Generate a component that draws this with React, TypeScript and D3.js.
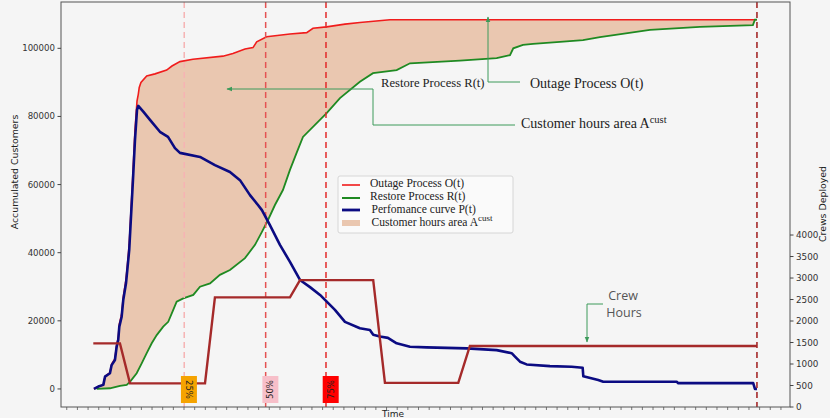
import React from "react";
import * as d3 from "d3";

type Pt = [number, number];

// [time (h), accumulated customers]
const outage: Pt[] = [
  [0.55, 0], [0.96, 700], [1.43, 1200], [1.59, 3700], [2.05, 4800], [2.21, 7300],
  [2.52, 8900], [2.68, 12900], [2.83, 15000], [2.93, 19000], [3.15, 22000], [3.3, 27000],
  [3.56, 32200], [3.71, 37100], [3.86, 42500], [4.21, 63500], [4.4, 76000], [4.59, 84500],
  [4.71, 86500], [4.8, 88500], [4.96, 90000], [5.5, 91900], [6.28, 92500], [7.37, 93600],
  [7.87, 94800], [8.62, 96100], [9.84, 96800], [12.65, 97700], [13.59, 98500], [14.72, 99800],
  [15.47, 100200], [15.82, 101900], [16.75, 103400], [18.94, 104200], [20.51, 104600],
  [21.1, 105900], [22.38, 106300], [24.1, 107100], [25.5, 107600], [28.32, 108400], [62.75, 108400],
];

const restore: Pt[] = [
  [0.81, 0], [2.05, 200], [2.99, 900], [3.62, 1200], [3.93, 2100], [4.56, 4600], [5.03, 7500],
  [5.5, 10500], [5.97, 13400], [6.44, 15800], [7.05, 18300], [7.52, 19700], [7.99, 23200],
  [8.31, 25600], [8.93, 26600], [9.87, 27600], [10.5, 30000], [11.44, 31000], [12.37, 33500],
  [13.31, 34900], [14.72, 38400], [15.66, 42300], [16.31, 46100], [16.88, 49600], [17.53, 54000],
  [18.28, 58400], [18.94, 64300], [19.6, 69600], [20.16, 74000], [22.38, 81000], [23.63, 85400],
  [25.5, 90200], [26.73, 92700], [28.95, 93600], [30.2, 95600], [34.89, 96400], [38.33, 97100],
  [39.58, 98000], [39.89, 100000], [40.8, 101000], [41.74, 101300], [44.27, 101900],
  [46.43, 102400], [48.02, 103300], [52.71, 105400], [57.4, 106300], [62.37, 106800],
  [62.56, 108400], [62.75, 108400],
];

const performance: Pt[] = [
  [0.55, 0], [0.96, 700], [1.43, 1200], [1.59, 3600], [2.05, 4600], [2.21, 7000], [2.52, 8500],
  [2.68, 12400], [2.83, 14400], [2.93, 18300], [3.15, 21200], [3.3, 26100], [3.56, 31100],
  [3.71, 35900], [3.86, 40800], [4.21, 61300], [4.4, 73100], [4.59, 81900], [4.71, 83100],
  [5.18, 81400], [5.81, 79000], [6.74, 75500], [7.5, 74000], [8.15, 70700], [8.62, 69300],
  [10.5, 68100], [11.9, 65700], [13.31, 63700], [14.25, 61300], [15.19, 56900], [15.94, 54000],
  [16.31, 52500], [17.06, 48100], [18.0, 42300], [18.94, 37300], [19.88, 32000], [20.82, 29900],
  [21.76, 27600], [23.16, 23200], [24.1, 19700], [25.5, 17800], [26.44, 17300], [26.75, 15900],
  [27.38, 15400], [28.13, 15000], [28.95, 13400], [30.2, 12400], [31.76, 12200], [35.52, 11900],
  [38.33, 11400], [39.74, 10500], [40.05, 9500], [40.52, 8000], [41.14, 7200], [43.33, 6700],
  [45.37, 6500], [46.4, 6200], [46.46, 3700], [47.86, 2600], [48.33, 2100], [55.22, 2100],
  [55.37, 1700], [62.4, 1700], [62.56, 0], [62.75, 0],
];

// [time (h), crews deployed]
const crews: Pt[] = [
  [0.49, 1480], [2.99, 1480], [3.93, 550], [10.97, 550], [11.9, 2550], [18.94, 2550],
  [19.88, 2950], [26.75, 2950], [27.85, 560], [34.73, 560], [35.82, 1420], [62.75, 1420],
];

const milestoneLabels = ["25%", "50%", "75%"];
const milestoneTimes = [9.02, 16.66, 22.32];
const endTime = 62.75;

const customerTicks = [0, 20000, 40000, 60000, 80000, 100000];
const crewTicks = [0, 500, 1000, 1500, 2000, 2500, 3000, 3500, 4000];
const timeTicks = d3.range(-2, 66);

const legendItems = ["Outage Process O(t)", "Restore Process R(t)", "Perfomance curve P(t)", "Customer hours area A"];

export default function App() {
  const width = 830;
  const height = 418;
  const L = 61, R = 790, T = 2, B = 407;

  const x = d3.scaleLinear().domain([-2.54, 65.85]).range([L, R]);
  const yL = d3.scaleLinear().domain([-5300, 113600]).range([B, T]);
  const yR = d3.scaleLinear().domain([0, 9420]).range([B, T]);

  const lineL = d3.line<Pt>().x(d => x(d[0])).y(d => yL(d[1]));
  const lineR = d3.line<Pt>().x(d => x(d[0])).y(d => yR(d[1]));
  const areaPath = lineL([...outage, ...restore.slice().reverse()]) + "Z";

  const red = "#f01c1c";
  const green = "#1f8a22";
  const navy = "#0b0b82";
  const brown = "#a52a2a";
  const peach = "#eac7b0";
  const note = "#3c9a5a";
  const mlColors = ["#f6b4b4", "#e55353", "#e32a2a"];
  const boxColors = ["#f5a300", "#f7bfc9", "#ff0000"];
  const sans = "'DejaVu Sans', sans-serif";
  const serif = "'Liberation Serif', 'Times New Roman', serif";

  const legendY = [186.5, 199.5, 212.5, 225.5];

  return (
    <div style={{ position: "absolute", left: 0, top: 0, width, height, background: "#f5f5f5" }}>
      <svg width={width} height={height} style={{ display: "block" }}>
        <defs>
          <marker id="arr" viewBox="0 0 10 10" refX="9" refY="5" markerWidth="6" markerHeight="6" orient="auto">
            <path d="M0,1 L10,5 L0,9 z" fill={note} />
          </marker>
        </defs>

        {/* area + curves */}
        <path d={areaPath} fill={peach} />
        <path d={lineL(outage)!} fill="none" stroke={red} strokeWidth={1.6} />
        <path d={lineL(restore)!} fill="none" stroke={green} strokeWidth={1.8} />

        {milestoneTimes.map((t, i) => (
          <line key={"ml" + i} x1={x(t)} x2={x(t)} y1={T} y2={B} stroke={mlColors[i]}
            strokeWidth={1.5} strokeDasharray="6,4" />
        ))}

        <path d={lineL(performance)!} fill="none" stroke={navy} strokeWidth={2.6} strokeLinejoin="round" />
        <path d={lineR(crews)!} fill="none" stroke={brown} strokeWidth={2.4} />
        <line x1={x(endTime)} x2={x(endTime)} y1={T} y2={B} stroke={brown} strokeWidth={1.6} strokeDasharray="6,4" />

        {milestoneTimes.map((t, i) => {
          const bx = x(t) - 3.3;
          const cx = bx + 8;
          const cy = 389.5;
          return (
            <g key={"mb" + i}>
              <rect x={bx} y={376} width={16} height={27} fill={boxColors[i]} />
              <text x={cx} y={cy} transform={`rotate(${i === 0 ? 90 : -90} ${cx} ${cy})`}
                textAnchor="middle" dominantBaseline="central" fontSize={8.5} fontFamily={sans} fill="#222">
                {milestoneLabels[i]}
              </text>
            </g>
          );
        })}

        {/* frame */}
        <rect x={L} y={T} width={R - L} height={B - T} fill="none" stroke="#555" strokeWidth={1} />

        {/* left axis */}
        {customerTicks.map(v => (
          <g key={"yl" + v}>
            <line x1={L - 3.5} x2={L} y1={yL(v)} y2={yL(v)} stroke="#444" />
            <text x={L - 6} y={yL(v)} textAnchor="end" dominantBaseline="central" fontSize={8.6}
              fontFamily={sans} fill="#333">{v}</text>
          </g>
        ))}
        <text transform={`translate(14 172) rotate(-90)`} textAnchor="middle" dominantBaseline="central"
          fontSize={9.4} fontFamily={sans} fill="#222">Accumulated Customers</text>

        {/* right axis */}
        {crewTicks.map(v => (
          <g key={"yr" + v}>
            <line x1={R} x2={R + 3.5} y1={yR(v)} y2={yR(v)} stroke="#444" />
            <text x={R + 6} y={yR(v)} textAnchor="start" dominantBaseline="central" fontSize={8.8}
              fontFamily={sans} fill="#333">{v}</text>
          </g>
        ))}
        <text transform={`translate(822 204) rotate(-90)`} textAnchor="middle" dominantBaseline="central"
          fontSize={9.4} fontFamily={sans} fill="#222">Crews Deployed</text>

        {/* time axis */}
        {timeTicks.map(t => (
          <line key={"xt" + t} x1={x(t)} x2={x(t)} y1={B} y2={B + 3} stroke="#555" strokeWidth={0.8} />
        ))}
        <text x={393} y={417} textAnchor="middle" fontSize={9} fontFamily={sans} fill="#222">Time</text>

        {/* legend */}
        <g>
          <rect x={338} y={176} width={175} height={57} rx={2} fill="#fafafa" stroke="#d6d6d6" />
          <line x1={342} x2={360} y1={185} y2={185} stroke={red} strokeWidth={1.6} />
          <line x1={342} x2={360} y1={198} y2={198} stroke={green} strokeWidth={2} />
          <line x1={342} x2={360} y1={210} y2={210} stroke={navy} strokeWidth={2.8} />
          <rect x={342} y={220} width={18} height={6} fill={peach} />
          {legendItems.map((s, i) => (
            <text key={s} x={i < 2 ? 370 : 371.5} y={legendY[i]} fontSize={11.6} fontFamily={serif} fill="#222">
              {s}{i === 3 ? <tspan dy={-4.5} fontSize={9}>cust</tspan> : null}
            </text>
          ))}
        </g>

        {/* callouts */}
        <path d="M520,82 H488 V17" fill="none" stroke={note} strokeWidth={1} markerEnd="url(#arr)" />
        <path d="M515,125 H373 V89 H227" fill="none" stroke={note} strokeWidth={1} markerEnd="url(#arr)" />
        <path d="M603,304 H587 V342" fill="none" stroke={note} strokeWidth={1} markerEnd="url(#arr)" />

        <text x={381} y={87} fontSize={12.6} fontFamily={serif} fill="#222">Restore Process R(t)</text>
        <text x={530} y={88} fontSize={14} fontFamily={serif} fill="#222">Outage Process O(t)</text>
        <text x={521} y={128} fontSize={14} fontFamily={serif} fill="#222">
          Customer hours area A<tspan dy={-5} fontSize={10.5}>cust</tspan>
        </text>
        <text x={623} y={300} textAnchor="middle" fontSize={12.5} fontFamily="'Open Sans', sans-serif" fill="#555">Crew</text>
        <text x={624} y={317} textAnchor="middle" fontSize={12.5} fontFamily="'Open Sans', sans-serif" fill="#555">Hours</text>
      </svg>
    </div>
  );
}
